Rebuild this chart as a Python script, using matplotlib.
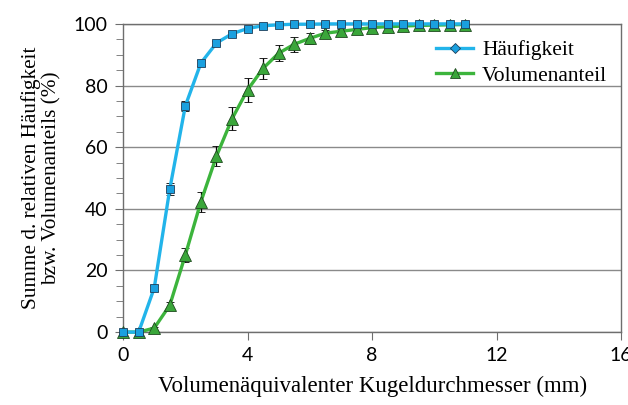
import matplotlib.pyplot as plt
from matplotlib.ticker import MultipleLocator

# Durchmesser (mm)
d = [0, 0.5, 1, 1.5, 2, 2.5, 3, 3.5, 4, 4.5, 5, 5.5, 6, 6.5, 7, 7.5, 8,
     8.5, 9, 9.5, 10, 10.5, 11]
haeufigkeit = [0, 0, 14.3, 46.4, 73.4, 87.3, 93.8, 96.8, 98.5, 99.4, 99.7,
               99.9, 99.9, 100, 100, 100, 100, 100, 100, 100, 100, 100, 100]
haeufigkeit_err = [0, 0, 1.0, 2.0, 1.6, 1.0, 0.6, 0.5, 0.4, 0.3, 0.2,
                   0.1, 0.1, 0.1, 0.1, 0.1, 0.1, 0.1, 0.1, 0.1, 0.1, 0.1, 0.1]
volumen = [0, 0, 1.3, 8.7, 25.0, 42.3, 57.1, 69.2, 78.6, 85.6, 90.5, 93.4,
           95.3, 97.0, 97.6, 98.2, 98.8, 99.1, 99.3, 99.5, 99.6, 99.7, 99.8]
volumen_err = [0, 0, 0.5, 1.0, 2.3, 3.3, 3.3, 3.7, 4.0, 3.4, 2.5, 2.4,
               1.7, 1.0, 0.8, 0.6, 0.5, 0.4, 0.3, 0.3, 0.2, 0.2, 0.2]

serif = ['Liberation Serif', 'DejaVu Serif']
sans = ['Lato', 'DejaVu Sans']

fig = plt.figure(figsize=(6.28, 4.05), dpi=100)
ax = fig.add_axes([0.196, 0.180, 0.793, 0.761])

ax.errorbar(d, volumen, yerr=volumen_err, color='#3cb43c', lw=2.4,
            marker='^', ms=8, mfc='#3aa63a', mec='#1e4a1e', mew=0.6,
            ecolor='black', elinewidth=0.9, capsize=3, capthick=0.9,
            clip_on=False, zorder=3)
ax.errorbar(d, haeufigkeit, yerr=haeufigkeit_err, color='#22b4ea', lw=2.4,
            marker='s', ms=6, mfc='#1aa0df', mec='#1d3f5a', mew=0.6,
            ecolor='black', elinewidth=0.9, capsize=3, capthick=0.9,
            clip_on=False, zorder=4)

h1, = ax.plot([], [], color='#22b4ea', lw=2.4, marker='D', ms=5,
              mfc='#1aa0df', mec='#1d3f5a', mew=0.6)
h2, = ax.plot([], [], color='#3cb43c', lw=2.4, marker='^', ms=6.5,
              mfc='#3aa63a', mec='#1e4a1e', mew=0.6)
ax.legend([h1, h2], ['Häufigkeit', 'Volumenanteil'], loc='upper left',
          bbox_to_anchor=(0.589, 1.01), frameon=False, handlelength=1.75,
          handletextpad=0.4, labelspacing=0.25,
          prop={'family': serif, 'size': 15.5})

ax.set_xlim(0, 16)
ax.set_ylim(0, 100)
ax.xaxis.set_major_locator(MultipleLocator(4))
ax.yaxis.set_major_locator(MultipleLocator(20))
ax.yaxis.set_minor_locator(MultipleLocator(5))
ax.grid(axis='y', which='major', color='#8a8a8a', lw=1.0)
ax.set_axisbelow(True)
for s in ax.spines.values():
    s.set_color('#6e6e6e')
    s.set_linewidth(1.0)
ax.tick_params(axis='both', which='major', direction='out', length=6,
               color='#6e6e6e', labelsize=14, pad=5)
ax.tick_params(axis='y', which='minor', direction='out', length=5,
               color='#6e6e6e')
for lab in ax.get_xticklabels() + ax.get_yticklabels():
    lab.set_family(sans)

ax.set_xlabel('Volumenäquivalenter Kugeldurchmesser (mm)', family=serif,
              fontsize=16.5, labelpad=8)
ax.set_ylabel('Summe d. relativen Häufigkeit\nbzw. Volumenanteils (%)',
              family=serif, fontsize=15.3, labelpad=9, linespacing=1.05)

fig.savefig('out.png', dpi=100)
